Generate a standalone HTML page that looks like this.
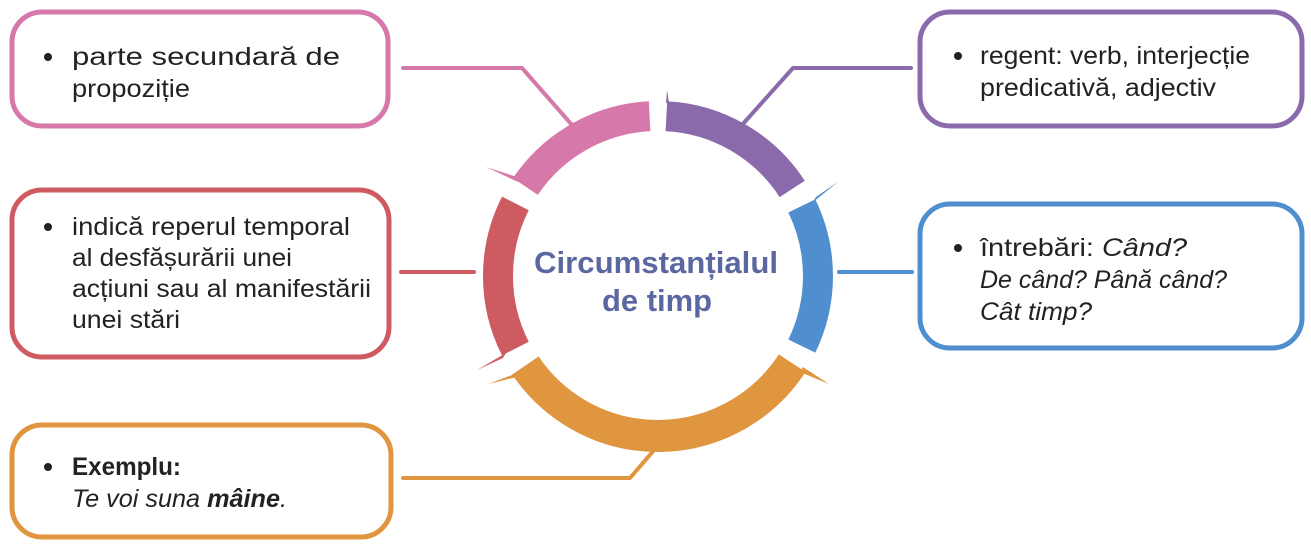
<!DOCTYPE html>
<html><head><meta charset="utf-8"><style>
html,body{margin:0;padding:0;background:#fff;}
svg{display:block;}
text{font-family:"Liberation Sans",sans-serif;font-size:25px;fill:#222;}
</style></head><body>
<svg width="1311" height="550" viewBox="0 0 1311 550" xmlns="http://www.w3.org/2000/svg">
<rect x="12" y="12" width="376" height="114" rx="30" fill="#fff" stroke="#d678aa" stroke-width="5"/>
<rect x="920" y="12" width="382" height="114" rx="30" fill="#fff" stroke="#8a6aab" stroke-width="5"/>
<rect x="12" y="190" width="377" height="167" rx="30" fill="#fff" stroke="#cf5b62" stroke-width="5"/>
<rect x="920" y="204" width="382" height="144" rx="30" fill="#fff" stroke="#4f8fd0" stroke-width="5"/>
<rect x="12" y="425" width="379" height="112" rx="30" fill="#fff" stroke="#e0953f" stroke-width="5"/>
<g fill="none" stroke-width="4" stroke-linejoin="round" stroke-linecap="round">
<polyline points="403,68 522,68 572,125" stroke="#d678aa"/>
<polyline points="911,68 793,68 742,125" stroke="#8a6aab"/>
<line x1="401" y1="272" x2="474" y2="272" stroke="#cf5b62"/>
<line x1="839" y1="272" x2="912" y2="272" stroke="#4f8fd0"/>
<polyline points="403,478 630,478 655,449" stroke="#e0953f"/>
</g>
<g fill="none" stroke-width="30">
<path d="M666.4,116.2 A160,160 0 0 1 792.2,188.9" stroke="#8a6aab"/>
<path d="M801.8,205.9 A160,160 0 0 1 801.8,346.1" stroke="#4f8fd0"/>
<path d="M792.2,363.1 A160,160 0 0 1 525.4,365.5" stroke="#e0953f" stroke-width="32"/>
<path d="M515.4,348.6 A160,160 0 0 1 515.4,203.4" stroke="#cf5b62"/>
<path d="M525.4,186.5 A160,160 0 0 1 649.6,116.2" stroke="#d678aa"/>
</g>
<polygon points="518,182 486,167 514,176" fill="#d678aa"/>
<polygon points="506,353 477,370 503,358" fill="#cf5b62"/>
<polygon points="520,372 488,384 517,377" fill="#e0953f"/>
<polygon points="800,372 829,384 803,367" fill="#e0953f"/>
<polygon points="812,203 839,181 816,197" fill="#4f8fd0"/>
<polygon points="666,103 667,90 669,103" fill="#8a6aab"/>
<g fill="#222">
<circle cx="48" cy="57" r="4"/>
<circle cx="958" cy="56" r="4"/>
<circle cx="48" cy="227" r="4"/>
<circle cx="958" cy="248" r="4"/>
<circle cx="48" cy="467" r="4"/>
</g>
<text x="72" y="65" textLength="268" lengthAdjust="spacingAndGlyphs">parte secundară de</text>
<text x="72" y="97" textLength="118" lengthAdjust="spacingAndGlyphs">propoziție</text>
<text x="980" y="64" textLength="270" lengthAdjust="spacingAndGlyphs">regent: verb, interjecție</text>
<text x="980" y="96" textLength="236" lengthAdjust="spacingAndGlyphs">predicativă, adjectiv</text>
<text x="72" y="235" textLength="278" lengthAdjust="spacingAndGlyphs">indică reperul temporal</text>
<text x="72" y="266" textLength="220" lengthAdjust="spacingAndGlyphs">al desfășurării unei</text>
<text x="72" y="297" textLength="299" lengthAdjust="spacingAndGlyphs">acțiuni sau al manifestării</text>
<text x="72" y="328" textLength="108" lengthAdjust="spacingAndGlyphs">unei stări</text>
<text x="980" y="256" textLength="207" lengthAdjust="spacingAndGlyphs">întrebări: <tspan font-style="italic">Când?</tspan></text>
<text x="980" y="288" textLength="247" lengthAdjust="spacingAndGlyphs" font-style="italic">De când? Până când?</text>
<text x="980" y="320" textLength="112" lengthAdjust="spacingAndGlyphs" font-style="italic">Cât timp?</text>
<text x="72" y="475" textLength="109" lengthAdjust="spacingAndGlyphs" font-weight="bold">Exemplu:</text>
<text x="72" y="507" textLength="215" lengthAdjust="spacingAndGlyphs" font-style="italic">Te voi suna <tspan font-weight="bold">mâine</tspan>.</text>
<text x="534" y="273" textLength="244" lengthAdjust="spacingAndGlyphs" style="font-size:31px;font-weight:bold;fill:#5b67a0">Circumstanțialul</text>
<text x="602" y="311" textLength="110" lengthAdjust="spacingAndGlyphs" style="font-size:31px;font-weight:bold;fill:#5b67a0">de timp</text>
</svg>
</body></html>
